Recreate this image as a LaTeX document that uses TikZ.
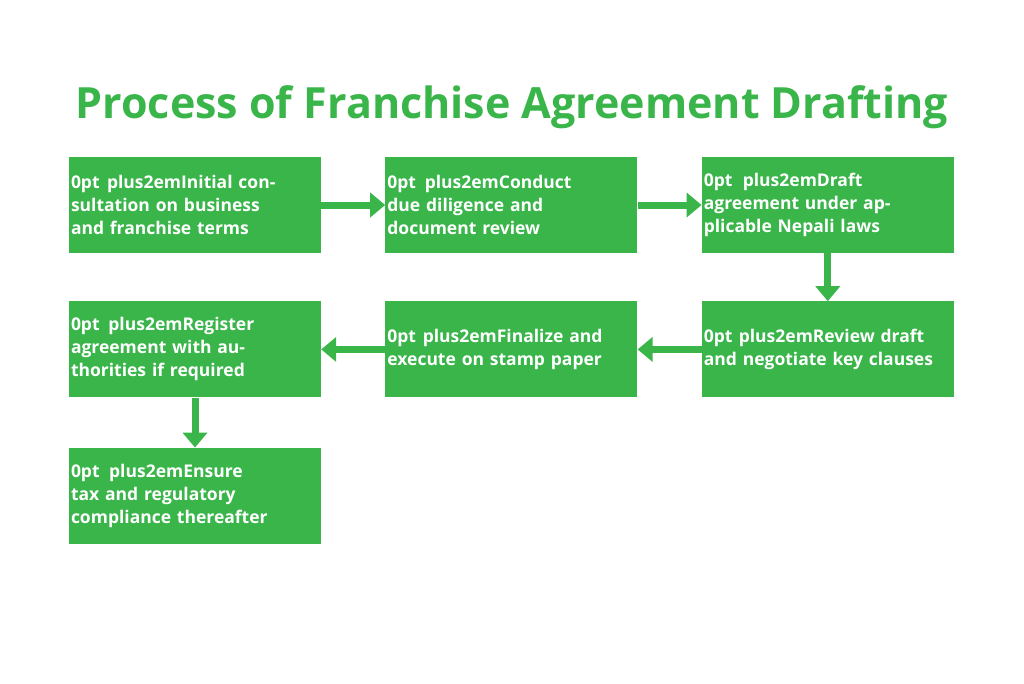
\documentclass[tikz,border=0pt]{standalone}
\usepackage{fontspec}
\setmainfont{Open Sans}
\usetikzlibrary{positioning,arrows.meta}
\definecolor{stepgreen}{HTML}{39B54A}
\tikzset{
    node distance=48pt and 64pt, % gaps between the boxes
    }

\begin{document}
\begin{tikzpicture}[x=1pt,y=-1pt,
stepbox/.style={rectangle, fill=stepgreen, text=white, font=\bfseries\fontsize{17.5}{23}\selectfont\hyphenpenalty=10000, text width=248pt, align=center, minimum width=252pt, minimum height=96pt, inner sep=2pt},
flow/.style={stepgreen, line width=7pt, -{Triangle[length=15pt,width=24pt]}},
]
\useasboundingbox (0,0) rectangle (1024,683);
\node[font=\bfseries\fontsize{43}{50}\selectfont, text=stepgreen] (title) at (512,107) {Process of Franchise Agreement Drafting};

\node[stepbox] (consult) at (195,205) {Initial consultation on business and franchise terms};
\node[stepbox] (diligence) [right=of consult] {Conduct due diligence and document review};
\node[stepbox] (draft) [right=of diligence] {Draft agreement under applicable Nepali laws};
\node[stepbox] (review) [below=of draft] {Review draft and negotiate key clauses};
\node[stepbox] (execute) [left=of review] {Finalize and execute on stamp paper};
\node[stepbox] (register) [left=of execute] {Register agreement with authorities if required};
\node[stepbox] (comply) [below=50pt of register] {Ensure tax and regulatory compliance thereafter};

\draw[flow] (consult.east) -- (diligence.west);
\draw[flow] (diligence.east) -- (draft.west);
\draw[flow] (draft.south) -- (review.north);
\draw[flow] (review.west) -- (execute.east);
\draw[flow] (execute.west) -- (register.east);
\draw[flow] (register.south) -- (comply.north);
\end{tikzpicture}
\end{document}
